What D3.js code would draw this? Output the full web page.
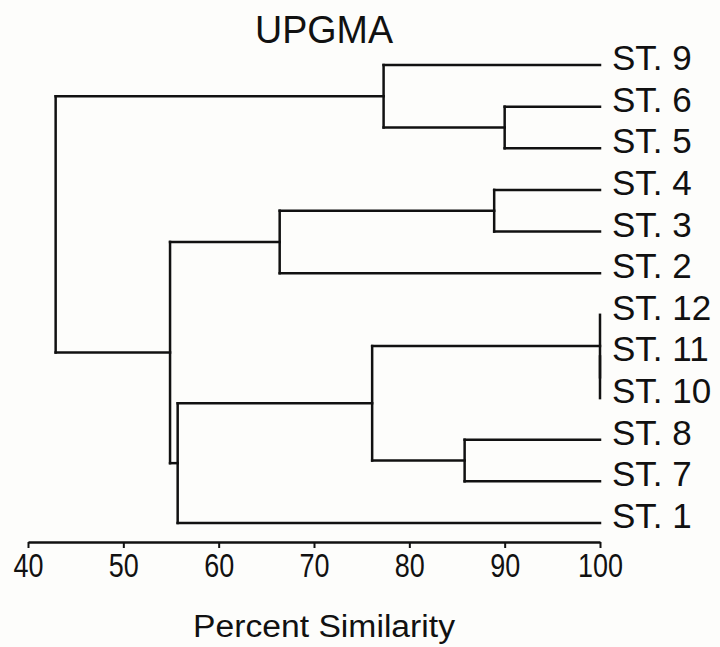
<!DOCTYPE html>
<html>
<head>
<meta charset="utf-8">
<script src="https://cdn.jsdelivr.net/npm/d3@7"></script>
<style>
  body { margin: 0; background: #fdfdfb; }
  text { font-family: "Liberation Sans", Arial, sans-serif; fill: #111; }
</style>
</head>
<body>
<div id="plot"></div>
<script>
const width = 720, height = 647;

// Data
const leaves = ["ST. 9", "ST. 6", "ST. 5", "ST. 4", "ST. 3", "ST. 2",
                "ST. 12", "ST. 11", "ST. 10", "ST. 8", "ST. 7", "ST. 1"];

// merges in order: [left, right, percent similarity]; "c0".."c10" are earlier clusters
const mergeLeft  = ["ST. 6", "ST. 9", "ST. 4", "c2", "ST. 11", "ST. 12", "ST. 8", "c5", "c7", "c3", "c1"];
const mergeRight = ["ST. 5", "c0",    "ST. 3", "ST. 2", "ST. 10", "c4",  "ST. 7", "c6", "ST. 1", "c8", "c9"];
const mergeSim   = [90.0,    77.3,    88.9,    66.4,    100,      100,    85.8,    76.1,  55.7,    54.9,  42.9];

const xTicks = [40, 50, 60, 70, 80, 90, 100];

const svg = d3.select("#plot")
  .append("svg")
    .attr("width", width)
    .attr("height", height);

const x = d3.scaleLinear()
  .domain([40, 100])
  .range([28, 600]);

const y = d3.scalePoint()
  .domain(leaves)
  .range([65, 523]);

// node positions: leaves sit at 100 %, clusters at their merge level
const nodes = {};
leaves.forEach(l => nodes[l] = { sim: 100, y: y(l) });
mergeSim.forEach((s, i) => {
  const a = nodes[mergeLeft[i]], b = nodes[mergeRight[i]];
  nodes["c" + i] = { sim: s, y: (a.y + b.y) / 2, a: a, b: b };
});

const links = [];
mergeSim.forEach((s, i) => {
  const n = nodes["c" + i];
  // vertical joiner
  links.push({ x1: x(s), y1: n.a.y, x2: x(s), y2: n.b.y });
  // branches out to the children
  [n.a, n.b].forEach(c => {
    if (c.sim !== s) links.push({ x1: x(s), y1: c.y, x2: x(c.sim), y2: c.y });
  });
});

svg.append("g")
  .selectAll("line")
  .data(links)
  .join("line")
    .attr("x1", d => d.x1)
    .attr("y1", d => d.y1)
    .attr("x2", d => d.x2)
    .attr("y2", d => d.y2)
    .attr("stroke", "#111")
    .attr("stroke-width", 2.5)
    .attr("stroke-linecap", "square");

// leaf labels
svg.append("g")
  .selectAll("text")
  .data(leaves)
  .join("text")
    .attr("x", x(100) + 12)
    .attr("y", d => y(d) + 5)
    .style("font-size", "35px")
    .text(d => d);

// X axis
const axis = svg.append("g")
  .attr("transform", "translate(0,542)")
  .call(d3.axisBottom(x).tickValues(xTicks).tickSize(6).tickSizeOuter(0));
axis.select(".domain").attr("stroke", "#111").attr("stroke-width", 2.5);
axis.selectAll(".tick line").attr("stroke", "#111").attr("stroke-width", 2);
axis.selectAll(".tick text")
  .attr("y", 35)
  .attr("dy", 0)
  .attr("textLength", d => String(d).length * 15)
  .attr("lengthAdjust", "spacingAndGlyphs")
  .style("font-size", "34px")
  .style("font-family", "'Liberation Sans', Arial, sans-serif")
  .attr("fill", "#111");

// titles
svg.append("text")
  .attr("x", 324)
  .attr("y", 43)
  .attr("text-anchor", "middle")
  .attr("textLength", 138)
  .attr("lengthAdjust", "spacingAndGlyphs")
  .style("font-size", "38px")
  .text("UPGMA");

svg.append("text")
  .attr("x", 324)
  .attr("y", 637)
  .attr("text-anchor", "middle")
  .attr("textLength", 262)
  .attr("lengthAdjust", "spacingAndGlyphs")
  .style("font-size", "31px")
  .text("Percent Similarity");
</script>
</body>
</html>
